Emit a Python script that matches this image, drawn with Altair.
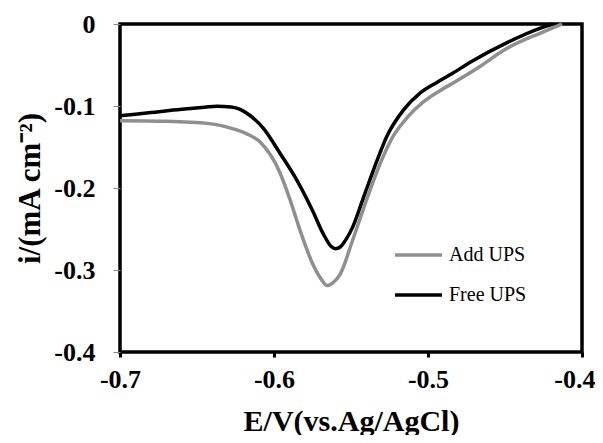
import altair as alt
import pandas as pd

e_free = [-0.700, -0.680, -0.660, -0.645, -0.637, -0.628, -0.622, -0.616, -0.607,
          -0.596, -0.585, -0.575, -0.568, -0.563, -0.560, -0.557, -0.553, -0.549,
          -0.542, -0.533, -0.527, -0.516, -0.505, -0.494, -0.484, -0.472, -0.449,
          -0.427, -0.419]
i_free = [-0.112, -0.108, -0.104, -0.1015, -0.1003, -0.1012, -0.104, -0.111, -0.127,
          -0.158, -0.191, -0.2275, -0.256, -0.271, -0.274, -0.272, -0.262, -0.248,
          -0.212, -0.166, -0.138, -0.105, -0.084, -0.071, -0.060, -0.046, -0.023,
          -0.005, 0.0]

e_add = [-0.700, -0.670, -0.642, -0.627, -0.618, -0.609, -0.596, -0.590, -0.583,
         -0.575, -0.569, -0.5656, -0.562, -0.557, -0.549, -0.540, -0.531, -0.523,
         -0.513, -0.503, -0.492, -0.481, -0.468, -0.449, -0.427, -0.413]
i_add = [-0.118, -0.1187, -0.1215, -0.1276, -0.1337, -0.144, -0.182, -0.212, -0.252,
         -0.292, -0.312, -0.319, -0.316, -0.305, -0.264, -0.215, -0.170, -0.138,
         -0.113, -0.095, -0.081, -0.069, -0.054, -0.030, -0.011, 0.0]

series_names = ["Add UPS", "Free UPS"]
series_colors = ["#8f8f8f", "#000000"]
x_ticks = [-0.7, -0.6, -0.5, -0.4]
y_ticks = [-0.4, -0.3, -0.2, -0.1, 0.0]

rows = []
for e, i in zip(e_add, i_add):
    rows.append({"E": e, "i": i, "series": series_names[0]})
for e, i in zip(e_free, i_free):
    rows.append({"E": e, "i": i, "series": series_names[1]})
df = pd.DataFrame(rows)

FONT = "Liberation Serif"

chart = alt.Chart(df).mark_line(interpolate="monotone", strokeWidth=3.5).encode(
    x=alt.X("E:Q",
            scale=alt.Scale(domain=[-0.7, -0.4], nice=False, zero=False),
            axis=alt.Axis(values=x_ticks, title="E/V(vs.Ag/AgCl)",
                          labelExpr="replace(format(datum.value, '.1f'), '\u2212', '-')",
                          labelFlush=False, labelOverlap=False,
                          labelAlign={"condition": {"test": "datum.value > -0.45", "value": "right"},
                                      "value": "center"},
                          labelOffset={"condition": {"test": "datum.value > -0.45", "value": 13},
                                       "value": 0},
                          domain=False, grid=False, tickColor="black", tickWidth=3,
                          tickSize=5, labelFont=FONT, labelFontSize=26,
                          labelFontWeight="bold", labelColor="black", labelPadding=9,
                          titleFont=FONT, titleFontSize=30, titleFontWeight="bold",
                          titleColor="black", titlePadding=14)),
    y=alt.Y("i:Q",
            scale=alt.Scale(domain=[-0.4, 0.0], nice=False, zero=False),
            axis=alt.Axis(values=y_ticks, title="i/(mA cm\u207b\u00b2)",
                          labelExpr="datum.value == 0 ? '0' : replace(format(datum.value, '.1f'), '\u2212', '-')",
                          labelFlush=False, labelOverlap=False,
                          domain=False, grid=False, tickColor="#888888", tickWidth=1,
                          tickSize=7, labelFont=FONT, labelFontSize=26,
                          labelFontWeight="bold", labelColor="black", labelPadding=18,
                          titleFont=FONT, titleFontSize=31, titleFontWeight="bold",
                          titleColor="black", titlePadding=7)),
    color=alt.Color("series:N",
                    scale=alt.Scale(domain=series_names, range=series_colors),
                    legend=alt.Legend(title=None, orient="none", legendX=273, legendY=221,
                                      symbolType="stroke", symbolSize=2209,
                                      symbolStrokeWidth=3.5, clipHeight=20,
                                      rowPadding=20, padding=0, labelOffset=5,
                                      labelFont=FONT, labelFontSize=20,
                                      labelColor="black")),
).properties(
    width=462, height=328,
    autosize=alt.AutoSizeParams(type="none"),
    padding={"left": 112, "top": 16, "right": 13, "bottom": 83},
).configure_view(stroke="black", strokeWidth=3.5)

chart.save("out.html", embed_options={"renderer": "svg", "actions": False})
